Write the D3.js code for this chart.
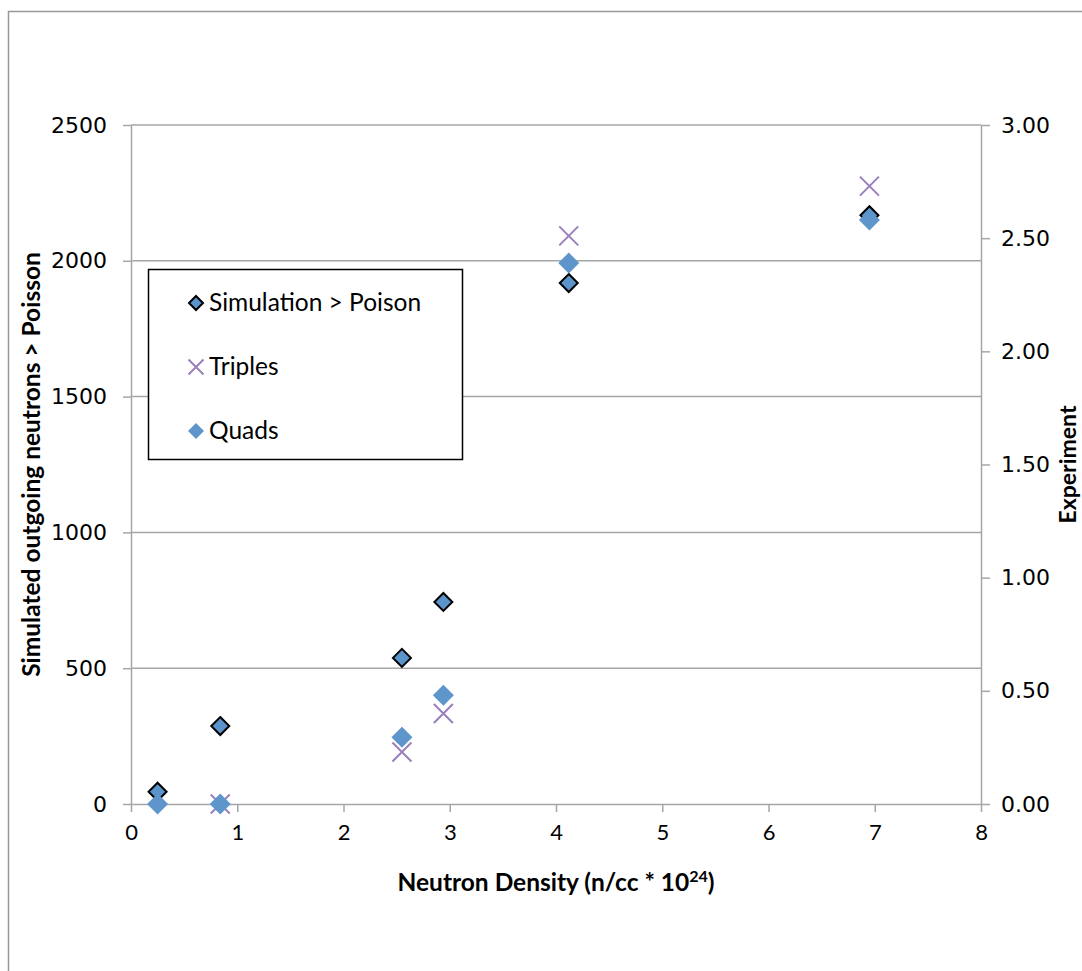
<!DOCTYPE html>
<html>
<head>
<meta charset="utf-8">
<script src="https://cdn.jsdelivr.net/npm/d3@7/dist/d3.min.js"></script>
<style>
  html, body { margin: 0; padding: 0; background: #fff; }
  svg { display: block; }
</style>
</head>
<body>
<svg id="chart" width="1082" height="971"></svg>
<script>
// Neutron density (n/cc * 10^24)
const density = [0.25, 0.84, 2.55, 2.94, 4.12, 6.95];
// Simulated outgoing neutrons > Poisson (left axis)
const simulation = [45, 287, 538, 744, 1918, 2168];
// Experiment (right axis)
const triplesX = [0.84, 2.55, 2.94, 4.12, 6.95];
const triples = [0.00, 0.23, 0.40, 2.51, 2.73];
const quads = [0.00, 0.00, 0.295, 0.48, 2.39, 2.58];

const xTicks = [0, 1, 2, 3, 4, 5, 6, 7, 8];
const leftTicks = [0, 500, 1000, 1500, 2000, 2500];
const rightTicks = [0, 0.5, 1, 1.5, 2, 2.5, 3];

const legendItems = ["Simulation > Poison", "Triples", "Quads"];

const svg = d3.select("#chart");
const plot = { left: 131, right: 981, top: 125, bottom: 804 };

const x = d3.scaleLinear().domain([0, 8]).range([plot.left, plot.right]);
const yL = d3.scaleLinear().domain([0, 2500]).range([plot.bottom, plot.top]);
const yR = d3.scaleLinear().domain([0, 3]).range([plot.bottom, plot.top]);

const gridColor = "#a6a6a6";
const simFill = "#5b93cb";
const quadFill = "#5e96cc";
const crossColor = "#9a7fbd";
const tickFont = "'DejaVu Sans', Verdana, sans-serif";
const textFont = "Lato, 'Open Sans', sans-serif";

// outer chart frame
svg.append("path")
  .attr("d", "M8.5,971 L8.5,11.5 L1082,11.5")
  .attr("fill", "none").attr("stroke", "#999").attr("stroke-width", 1.5);

// horizontal gridlines
svg.append("g")
  .selectAll("line").data(leftTicks.filter(d => d > 0)).join("line")
  .attr("x1", plot.left).attr("x2", plot.right)
  .attr("y1", d => yL(d)).attr("y2", d => yL(d))
  .attr("stroke", gridColor).attr("stroke-width", 1.5);

function styleAxis(g) {
  g.select(".domain").attr("stroke", gridColor).attr("stroke-width", 1.5);
  g.selectAll(".tick line").attr("stroke", gridColor).attr("stroke-width", 1.5);
}

// bottom axis
const gx = svg.append("g").attr("transform", `translate(0,${plot.bottom})`)
  .call(d3.axisBottom(x).tickValues(xTicks).tickFormat(d3.format("d")).tickSize(8).tickSizeOuter(0).tickPadding(12));
styleAxis(gx);
gx.selectAll(".tick text").attr("font-family", textFont).attr("font-size", 22).attr("fill", "#000");

// left axis
const gl = svg.append("g").attr("transform", `translate(${plot.left},0)`)
  .call(d3.axisLeft(yL).tickValues(leftTicks).tickFormat(d3.format("d")).tickSize(8).tickSizeOuter(0).tickPadding(16));
styleAxis(gl);
gl.selectAll(".tick text").attr("font-family", tickFont).attr("font-size", 22).attr("fill", "#000");

// right axis
const gr = svg.append("g").attr("transform", `translate(${plot.right},0)`)
  .call(d3.axisRight(yR).tickValues(rightTicks).tickFormat(d3.format(".2f")).tickSize(9).tickSizeOuter(0).tickPadding(11));
styleAxis(gr);
gr.selectAll(".tick text").attr("font-family", tickFont).attr("font-size", 22).attr("fill", "#000");

// axis titles
svg.append("text")
  .attr("x", x(4)).attr("y", 891)
  .attr("text-anchor", "middle")
  .attr("font-family", textFont).attr("font-weight", "bold").attr("font-size", 24.5)
  .text("Neutron Density (n/cc * 10")
  .append("tspan").attr("font-size", 16).attr("dy", -9).text("24")
  .select(function () { return this.parentNode; })
  .append("tspan").attr("dy", 9).text(")");

svg.append("text")
  .attr("transform", `translate(40,${(plot.top + plot.bottom) / 2}) rotate(-90)`)
  .attr("text-anchor", "middle")
  .attr("font-family", textFont).attr("font-weight", "bold").attr("font-size", 24.5)
  .text("Simulated outgoing neutrons > Poisson");

svg.append("text")
  .attr("transform", `translate(1076,${(plot.top + plot.bottom) / 2}) rotate(-90)`)
  .attr("text-anchor", "middle")
  .attr("font-family", textFont).attr("font-weight", "bold").attr("font-size", 23)
  .text("Experiment");

// marker shapes
const diamond = r => `M0,${-r} L${r},0 L0,${r} L${-r},0 Z`;
const cross = r => `M${-r},${-r} L${r},${r} M${-r},${r} L${r},${-r}`;

// Simulation > Poison
svg.append("g").selectAll("path").data(density.map((d, i) => [d, simulation[i]])).join("path")
  .attr("transform", d => `translate(${x(d[0])},${yL(d[1])})`)
  .attr("d", diamond(9))
  .attr("fill", simFill).attr("stroke", "#000").attr("stroke-width", 2);

// Triples
svg.append("g").selectAll("path").data(triplesX.map((d, i) => [d, triples[i]])).join("path")
  .attr("transform", d => `translate(${x(d[0])},${yR(d[1])})`)
  .attr("d", cross(9.5))
  .attr("fill", "none").attr("stroke", crossColor).attr("stroke-width", 2);

// Quads
svg.append("g").selectAll("path").data(density.map((d, i) => [d, quads[i]])).join("path")
  .attr("transform", d => `translate(${x(d[0])},${yR(d[1])})`)
  .attr("d", diamond(10.5))
  .attr("fill", quadFill);

// legend
const lg = svg.append("g");
lg.append("rect")
  .attr("x", 148.5).attr("y", 269.5).attr("width", 314).attr("height", 190)
  .attr("fill", "#fff").attr("stroke", "#000").attr("stroke-width", 1.5);

const legendRows = [303, 367, 431];
lg.append("path").attr("transform", `translate(196,${legendRows[0]})`)
  .attr("d", diamond(7)).attr("fill", simFill).attr("stroke", "#000").attr("stroke-width", 2);
lg.append("path").attr("transform", `translate(196,${legendRows[1]})`)
  .attr("d", cross(7.5)).attr("fill", "none").attr("stroke", crossColor).attr("stroke-width", 2);
lg.append("path").attr("transform", `translate(196,${legendRows[2]})`)
  .attr("d", diamond(8)).attr("fill", quadFill);

lg.selectAll("text").data(legendItems).join("text")
  .attr("x", 209).attr("y", (d, i) => legendRows[i] + 8)
  .attr("font-family", textFont).attr("font-size", 24.5).attr("fill", "#000")
  .text(d => d);
</script>
</body>
</html>
